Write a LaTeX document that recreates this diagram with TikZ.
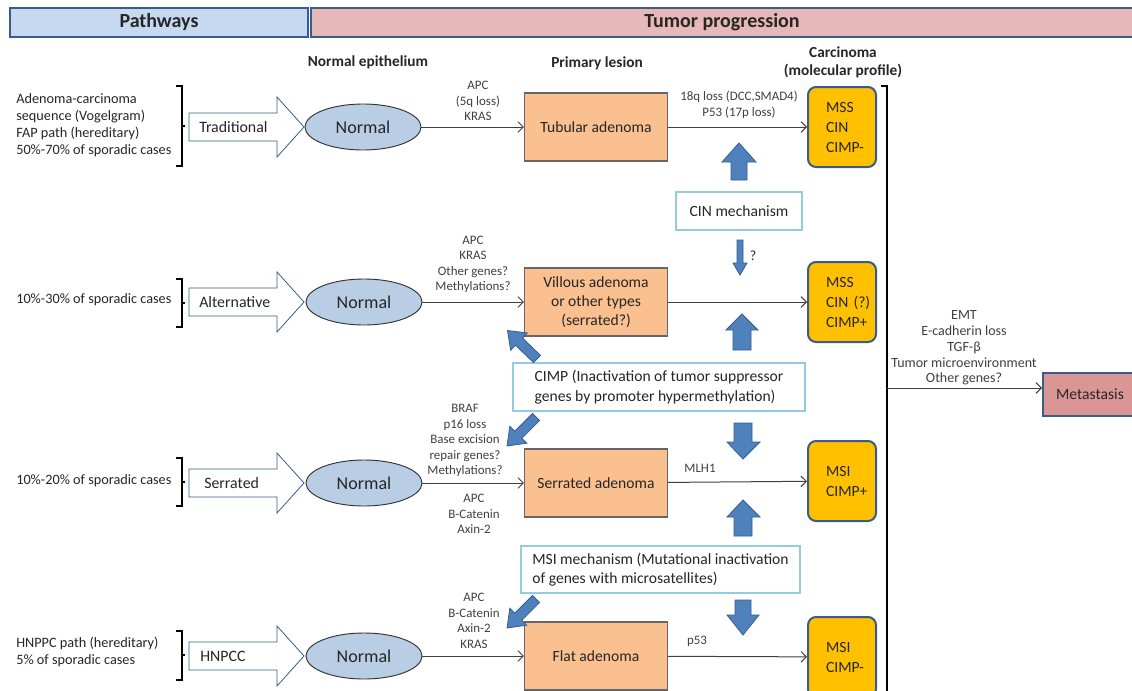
\documentclass[tikz,border=0pt]{standalone}
\usepackage{fontspec}
\setmainfont{Carlito}
\usetikzlibrary{arrows.meta,shapes.geometric}
\definecolor{hdrblue}{HTML}{C6D9F1}
\definecolor{hdrpink}{HTML}{E6B9B8}
\definecolor{navy}{HTML}{385D8A}
\definecolor{lesion}{HTML}{FAC090}
\definecolor{carc}{HTML}{FFC000}
\definecolor{normalfill}{HTML}{B9CDE5}
\definecolor{mechline}{HTML}{93CDDD}
\definecolor{arrowblue}{HTML}{4F81BD}
\definecolor{metafill}{HTML}{D99694}
\definecolor{labelgray}{HTML}{404040}
\definecolor{txt}{HTML}{262626}
\begin{document}
\begin{tikzpicture}[x=0.75pt,y=-0.75pt,
  hdr/.style={draw=navy, line width=1.5pt, minimum height=29*0.75pt, inner sep=0pt,
    font=\fontsize{15}{17}\selectfont\bfseries, text=txt},
  colhead/.style={font=\fontsize{11.5}{13.5}\selectfont\bfseries, align=center, text=txt},
  lefttext/.style={font=\fontsize{10.7}{12.6}\selectfont, align=left, anchor=west, text=txt, inner sep=0pt},
  hollowarr/.style={draw=navy, fill=white, line width=0.6pt},
  armtext/.style={font=\fontsize{11.9}{13}\selectfont, anchor=west, text=txt, inner sep=0pt},
  normal/.style={ellipse, draw=black!80, fill=normalfill, line width=0.7pt,
    minimum width=116*0.75pt, minimum height=46*0.75pt, inner sep=0pt,
    font=\fontsize{13.5}{15}\selectfont, text=txt},
  lesionbox/.style={rectangle, draw=black!60, fill=lesion, line width=0.8pt,
    minimum width=143*0.75pt, minimum height=68*0.75pt, align=center,
    font=\fontsize{11.7}{14.5}\selectfont, text=txt},
  carcbox/.style={rectangle, rounded corners=6pt, draw=navy, line width=1.5pt, fill=carc,
    minimum width=68*0.75pt, minimum height=80*0.75pt, text width=32*0.75pt,
    inner xsep=0pt, align=left, font=\fontsize{11.7}{15}\selectfont, text=txt},
  mech/.style={rectangle, draw=mechline, line width=1.5pt, fill=white, align=left,
    font=\fontsize{11.7}{14.5}\selectfont, text=txt},
  blockarr/.style={fill=arrowblue, draw=navy, line width=0.6pt},
  conn/.style={draw=black!75, line width=0.75pt, -{Straight Barb[length=4pt,width=8pt]}},
  lbl/.style={font=\fontsize{9.7}{11.6}\selectfont, text=labelgray, align=center, inner sep=0pt},
  brk/.style={draw=black, line width=0.8pt},
  metabox/.style={rectangle, draw=navy, line width=1.5pt, fill=metafill,
    minimum width=94*0.75pt, minimum height=43*0.75pt, font=\fontsize{11.7}{13}\selectfont, text=txt}
]
\clip (0,0) rectangle (1132,690);
\fill[white] (0,0) rectangle (1132,690);

% headers
\node[hdr, fill=hdrblue, minimum width=298*0.75pt] (hpath) at (159,22.5) {Pathways};
\node[hdr, fill=hdrpink, minimum width=822*0.75pt] (htumor) at (722,22.5) {Tumor progression};
\node[colhead] (hnorm) at (368,62) {Normal epithelium};
\node[colhead] (hprim) at (597,63) {Primary lesion};
\node[colhead] (hcarc) at (843,62) {Carcinoma\\(molecular profile)};

% left texts
\node[lefttext] (t1) at (16,125) {Adenoma-carcinoma\\sequence (Vogelgram)\\FAP path (hereditary)\\50\%-70\% of sporadic cases};
\node[lefttext] (t2) at (16,300) {10\%-30\% of sporadic cases};
\node[lefttext] (t3) at (16,481) {10\%-20\% of sporadic cases};
\node[lefttext] (t4) at (16,652) {HNPPC path (hereditary)\\5\% of sporadic cases};

% brackets
\draw[brk] (176,86) -- (182,86) -- (182,166) -- (176,166);
\draw[brk] (182,126) -- (185,126);
\draw[brk] (176,279) -- (182,279) -- (182,327) -- (176,327);
\draw[brk] (182,303) -- (185,303);
\draw[brk] (176,458) -- (182,458) -- (182,506) -- (176,506);
\draw[brk] (182,482) -- (185,482);
\draw[brk] (176,631) -- (182,631) -- (182,680) -- (176,680);
\draw[brk] (182,655) -- (185,655);

% hollow pathway arrows
\foreach \c in {127,302,483,656}{
  \draw[hollowarr] (189,\c-14) -- (277,\c-14) -- (277,\c-30) -- (304,\c) -- (277,\c+30) -- (277,\c+14) -- (189,\c+14) -- cycle;
}
\node[armtext] (a1) at (199,127) {Traditional};
\node[armtext] (a2) at (199,302) {Alternative};
\node[armtext] (a3) at (204,483) {Serrated};
\node[armtext] (a4) at (200,656) {HNPCC};

% normal ellipses
\node[normal] (n1) at (363,127) {Normal};
\node[normal] (n2) at (364,302) {Normal};
\node[normal] (n3) at (364,483) {Normal};
\node[normal] (n4) at (364,656) {Normal};

% lesions
\node[lesionbox] (l1) at (596,127) {Tubular adenoma};
\node[lesionbox] (l2) at (596,302) {Villous adenoma\\or other types\\(serrated?)};
\node[lesionbox] (l3) at (596,483) {Serrated adenoma};
\node[lesionbox] (l4) at (596,656) {Flat adenoma};

% carcinoma
\node[carcbox] (c1) at (842,127) {MSS\\CIN\\\mbox{CIMP-}};
\node[carcbox] (c2) at (842,302) {MSS\\\mbox{CIN (?)}\\\mbox{CIMP+}};
\node[carcbox] (c3) at (842,481) {MSI\\\mbox{CIMP+}};
\node[carcbox] (c4) at (842,657) {MSI\\\mbox{CIMP-}};

% mechanism boxes
\node[mech, minimum width=126*0.75pt, minimum height=38*0.75pt] (cin) at (739,211) {CIN mechanism};
\node[mech, minimum width=292*0.75pt, minimum height=48*0.75pt] (cimp) at (659,387) {CIMP (Inactivation of tumor suppressor\\genes by promoter hypermethylation)};
\node[mech, minimum width=279*0.75pt, minimum height=47*0.75pt] (msi) at (660.5,569.5) {MSI mechanism (Mutational inactivation\\of genes with microsatellites)};

% metastasis
\node[metabox] (meta) at (1090,394) {Metastasis};

% connectors
\draw[conn] (n1) -- (l1);
\draw[conn] (n2) -- (l2);
\draw[conn] (n3) -- (l3);
\draw[conn] (n4) -- (l4);
\draw[conn] (l1) -- (c1);
\draw[conn] (l2) -- (c2);
\draw[conn] (l3) -- (c3);
\draw[conn] (l4) -- (c4);

% labels
\node[lbl] (g1) at (478,101) {APC\\(5q loss)\\KRAS};
\node[lbl] (g2) at (739,105) {18q loss (DCC,SMAD4)\\P53 (17p loss)};
\node[lbl] (g3) at (473,264.5) {APC\\KRAS\\Other genes?\\Methylations?};
\node[lbl] (g4) at (465,440.5) {BRAF\\p16 loss\\Base excision\\repair genes?\\Methylations?};
\node[lbl] (g5) at (474,514) {APC\\B-Catenin\\Axin-2};
\node[lbl] (g6) at (700,468) {MLH1};
\node[lbl] (g7) at (474,621) {APC\\B-Catenin\\Axin-2\\KRAS};
\node[lbl] (g8) at (697,641) {p53};
\node[lbl, font=\fontsize{10.5}{11.8}\selectfont] (g9) at (964,348) {EMT\\E-cadherin loss\\TGF-β\\Tumor microenvironment\\Other genes?};
\node[font=\fontsize{10.5}{12}\selectfont, text=txt] (qm) at (753,256) {?};

% right bracket and metastasis arrow
\draw[brk] (881,86) -- (887,86) -- (887,695);
\coordinate (bj) at (887,388);
\draw[conn] (bj) -- (bj -| meta.west);

% blue block arrows (vertical)
\draw[blockarr] (731,180) -- (731,162) -- (722,162) -- (739,143) -- (756,162) -- (747,162) -- (747,180) -- cycle;
\draw[blockarr] (737,240) -- (737,263) -- (733,263) -- (740,275) -- (747,263) -- (743,263) -- (743,240) -- cycle;
\draw[blockarr] (733,350) -- (733,330) -- (726,330) -- (742,314) -- (758,330) -- (751,330) -- (751,350) -- cycle;
\draw[blockarr] (734,423) -- (734,442) -- (727,442) -- (743,459) -- (760,442) -- (752,442) -- (752,423) -- cycle;
\draw[blockarr] (734,536) -- (734,517) -- (727,517) -- (743,500) -- (760,517) -- (752,517) -- (752,536) -- cycle;
\draw[blockarr] (735,600) -- (735,615) -- (727,615) -- (743,635) -- (759,615) -- (751,615) -- (751,600) -- cycle;

% blue block arrows (diagonal)
\begin{scope}[shift={(537,359)}, rotate=136]
  \draw[blockarr] (0,-5) -- (25,-5) -- (25,-12) -- (41,0) -- (25,12) -- (25,5) -- (0,5) -- cycle;
\end{scope}
\begin{scope}[shift={(536,417)}, rotate=225]
  \draw[blockarr] (0,-5) -- (25,-5) -- (25,-12) -- (41,0) -- (25,12) -- (25,5) -- (0,5) -- cycle;
\end{scope}
\begin{scope}[shift={(536,599)}, rotate=225]
  \draw[blockarr] (0,-5) -- (25,-5) -- (25,-12) -- (41,0) -- (25,12) -- (25,5) -- (0,5) -- cycle;
\end{scope}
\end{tikzpicture}
\end{document}
